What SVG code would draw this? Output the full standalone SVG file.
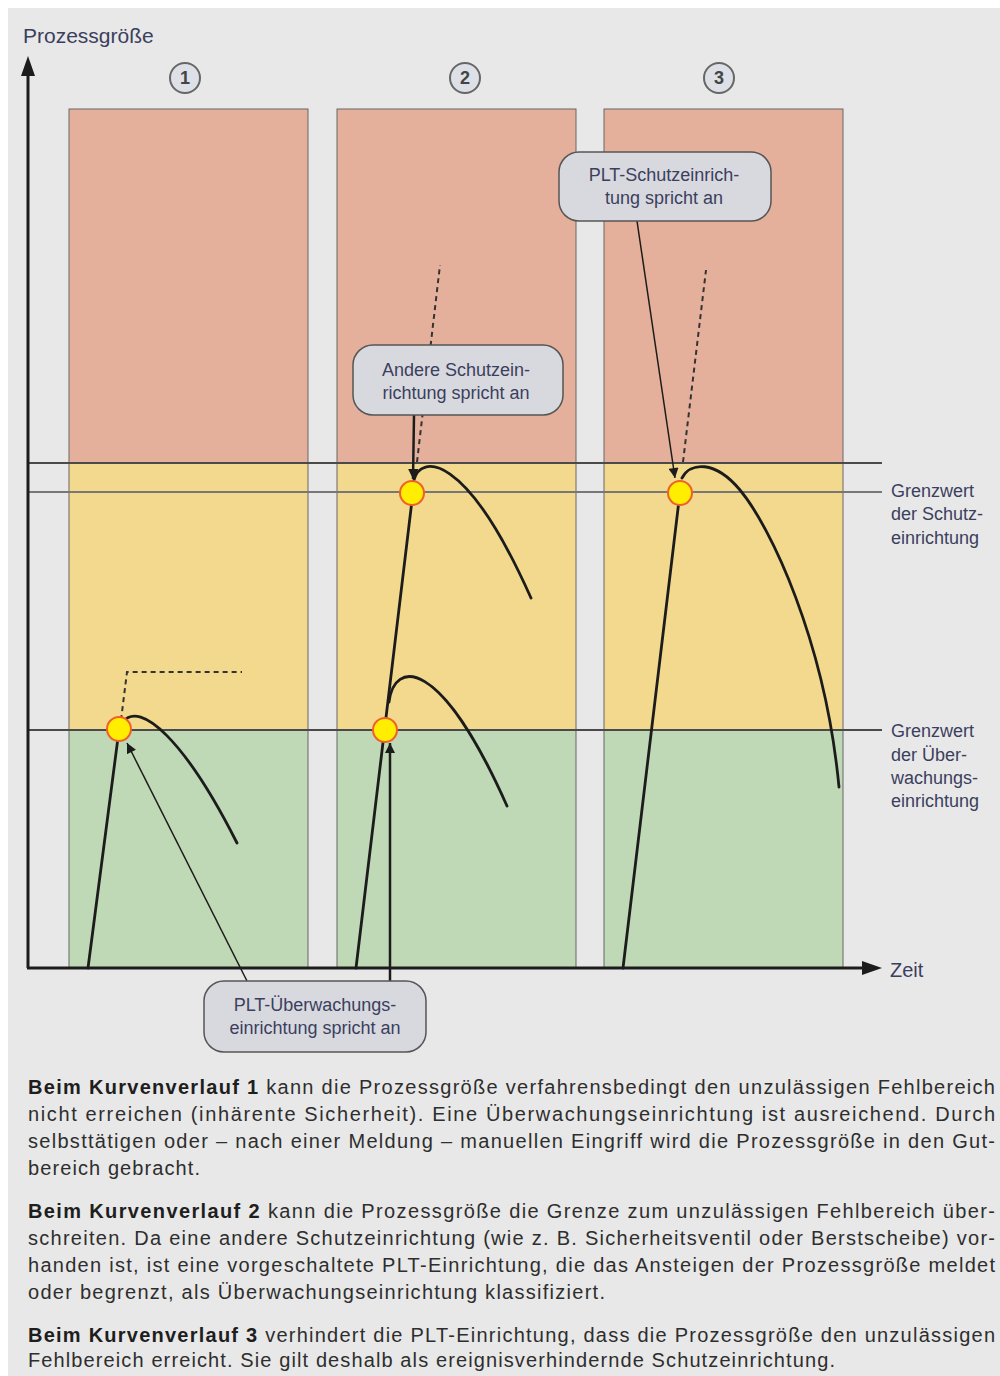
<svg xmlns="http://www.w3.org/2000/svg" width="1000" height="1376" viewBox="0 0 1000 1376">
<defs>
<style>
.lbl{font-family:"Liberation Sans",Arial,sans-serif;fill:#3b3f5e}
.para{font-family:"Liberation Sans",Arial,sans-serif;font-size:20px;fill:#2e2e2e}
.b{font-weight:bold;fill:#1e1e1e}
.col{stroke:#666;stroke-width:1}
.red{fill:#e4b09c}
.yel{fill:#f3d98d}
.grn{fill:#bfd8b6}
.curve{fill:none;stroke:#1c1c1c;stroke-width:2.8;stroke-linecap:round}
.dash{fill:none;stroke:#333;stroke-width:2;stroke-dasharray:5 4}
.dot{fill:#ffee00;stroke:#f0602a;stroke-width:2}
.box{fill:#d8d9de;stroke:#555;stroke-width:1.5}
.num{fill:#dde0e6;stroke:#666;stroke-width:2}
.thin{fill:none;stroke:#1c1c1c;stroke-width:1.5}
.thick{fill:none;stroke:#1c1c1c;stroke-width:2.5}
</style>
<marker id="ah" viewBox="0 0 10 10" refX="10" refY="5" markerWidth="11" markerHeight="10" markerUnits="userSpaceOnUse" orient="auto">
<path d="M0,0 L10,5 L0,10 z" fill="#1c1c1c"/>
</marker>
</defs>
<rect x="0" y="0" width="1000" height="1376" fill="#ffffff"/>
<rect x="8" y="8" width="992" height="1368" fill="#e8e8e8"/>

<g id="columns">
<g id="col1">
<rect class="red" x="69" y="109" width="239" height="354"/>
<rect class="yel" x="69" y="463" width="239" height="267"/>
<rect class="grn" x="69" y="730" width="239" height="238"/>
<rect class="col" x="69" y="109" width="239" height="859" fill="none"/>
</g>
<g id="col2">
<rect class="red" x="337" y="109" width="239" height="354"/>
<rect class="yel" x="337" y="463" width="239" height="267"/>
<rect class="grn" x="337" y="730" width="239" height="238"/>
<rect class="col" x="337" y="109" width="239" height="859" fill="none"/>
</g>
<g id="col3">
<rect class="red" x="604" y="109" width="239" height="354"/>
<rect class="yel" x="604" y="463" width="239" height="267"/>
<rect class="grn" x="604" y="730" width="239" height="238"/>
<rect class="col" x="604" y="109" width="239" height="859" fill="none"/>
</g>
</g>

<g id="limits">
<line x1="28" y1="463" x2="882" y2="463" stroke="#4a4a4a" stroke-width="2"/>
<line x1="28" y1="492" x2="882" y2="492" stroke="#777" stroke-width="2"/>
<line x1="28" y1="730" x2="882" y2="730" stroke="#4a4a4a" stroke-width="2"/>
</g>

<g id="axes">
<line x1="28" y1="968" x2="28" y2="72" stroke="#1c1c1c" stroke-width="3"/>
<path d="M28,56 L35,76 L21,76 z" fill="#1c1c1c"/>
<line x1="27" y1="968" x2="866" y2="968" stroke="#1c1c1c" stroke-width="3"/>
<path d="M882,968 L862,961 L862,975 z" fill="#1c1c1c"/>
<text class="lbl" x="23" y="43" font-size="21">Prozessgröße</text>
<text class="lbl" x="890" y="977" font-size="20">Zeit</text>
</g>

<g id="numbers">
<g id="n1"><circle class="num" cx="185" cy="78" r="15"/><text class="lbl" x="185" y="84" font-size="18" font-weight="bold" text-anchor="middle" style="fill:#444">1</text></g>
<g id="n2"><circle class="num" cx="465" cy="78" r="15"/><text class="lbl" x="465" y="84" font-size="18" font-weight="bold" text-anchor="middle" style="fill:#444">2</text></g>
<g id="n3"><circle class="num" cx="719" cy="78" r="15"/><text class="lbl" x="719" y="84" font-size="18" font-weight="bold" text-anchor="middle" style="fill:#444">3</text></g>
</g>

<g id="curves">
<path class="dash" d="M121,720 L127,672 L242,672"/>
<path class="curve" d="M88,968 L119,730"/>
<path class="curve" d="M123,722 C140,700 185,740 237,843"/>
<path class="dash" d="M417,462 L440,265"/>
<path class="curve" d="M356,968 L413,492"/>
<path class="curve" d="M389,702 C394,660 440,655 507,806"/>
<path class="curve" d="M414,480 C420,455 465,450 531,598"/>
<path class="dash" d="M683,462 L706,270"/>
<path class="curve" d="M623,968 L680,492"/>
<path class="curve" d="M682,478 C690,462 715,460 740,490 C770,526 825,640 839,787"/>
</g>

<g id="dots">
<circle class="dot" cx="119" cy="729" r="12"/>
<circle class="dot" cx="385" cy="730" r="12"/>
<circle class="dot" cx="412" cy="493" r="12"/>
<circle class="dot" cx="680" cy="493" r="12"/>
</g>

<g id="connectors">
<line class="thick" x1="414" y1="415" x2="413" y2="479" marker-end="url(#ah)"/>
<line class="thin" x1="637" y1="221" x2="675" y2="478" marker-end="url(#ah)"/>
<line class="thin" x1="247" y1="981" x2="127" y2="743" marker-end="url(#ah)"/>
<line class="thick" x1="390" y1="981" x2="390" y2="743" marker-end="url(#ah)"/>
</g>

<g id="callout-andere">
<rect class="box" x="353" y="345" width="210" height="70" rx="20"/>
<text class="lbl" x="456" y="376" font-size="18" text-anchor="middle">Andere Schutzein-</text>
<text class="lbl" x="456" y="399" font-size="18" text-anchor="middle">richtung spricht an</text>
</g>
<g id="callout-plt-schutz">
<rect class="box" x="559" y="152" width="212" height="69" rx="20"/>
<text class="lbl" x="664" y="181" font-size="18" text-anchor="middle">PLT-Schutzeinrich-</text>
<text class="lbl" x="664" y="204" font-size="18" text-anchor="middle">tung spricht an</text>
</g>
<g id="callout-plt-ueberw">
<rect class="box" x="204" y="981" width="222" height="71" rx="20"/>
<text class="lbl" x="315" y="1011" font-size="18" text-anchor="middle">PLT-Überwachungs-</text>
<text class="lbl" x="315" y="1034" font-size="18" text-anchor="middle">einrichtung spricht an</text>
</g>

<g id="label-schutz">
<text class="lbl" x="891" y="497" font-size="18">Grenzwert</text>
<text class="lbl" x="891" y="520" font-size="18">der Schutz-</text>
<text class="lbl" x="891" y="544" font-size="18">einrichtung</text>
</g>
<g id="label-ueberw">
<text class="lbl" x="891" y="737" font-size="18">Grenzwert</text>
<text class="lbl" x="891" y="761" font-size="18">der Über-</text>
<text class="lbl" x="891" y="784" font-size="18">wachungs-</text>
<text class="lbl" x="891" y="807" font-size="18">einrichtung</text>
</g>

<g id="text">
<text class="para" x="28" y="1094" textLength="967" lengthAdjust="spacing"><tspan class="b">Beim Kurvenverlauf 1</tspan> kann die Prozessgröße verfahrensbedingt den unzulässigen Fehlbereich</text>
<text class="para" x="28" y="1121" textLength="967" lengthAdjust="spacing">nicht erreichen (inhärente Sicherheit). Eine Überwachungseinrichtung ist ausreichend. Durch</text>
<text class="para" x="28" y="1148" textLength="967" lengthAdjust="spacing">selbsttätigen oder – nach einer Meldung – manuellen Eingriff wird die Prozessgröße in den Gut-</text>
<text class="para" x="28" y="1175" textLength="172" lengthAdjust="spacing">bereich gebracht.</text>
<text class="para" x="28" y="1218" textLength="967" lengthAdjust="spacing"><tspan class="b">Beim Kurvenverlauf 2</tspan> kann die Prozessgröße die Grenze zum unzulässigen Fehlbereich über-</text>
<text class="para" x="28" y="1245" textLength="967" lengthAdjust="spacing">schreiten. Da eine andere Schutzeinrichtung (wie z. B. Sicherheitsventil oder Berstscheibe) vor-</text>
<text class="para" x="28" y="1272" textLength="967" lengthAdjust="spacing">handen ist, ist eine vorgeschaltete PLT-Einrichtung, die das Ansteigen der Prozessgröße meldet</text>
<text class="para" x="28" y="1299" textLength="577" lengthAdjust="spacing">oder begrenzt, als Überwachungseinrichtung klassifiziert.</text>
<text class="para" x="28" y="1342" textLength="967" lengthAdjust="spacing"><tspan class="b">Beim Kurvenverlauf 3</tspan> verhindert die PLT-Einrichtung, dass die Prozessgröße den unzulässigen</text>
<text class="para" x="28" y="1367" textLength="807" lengthAdjust="spacing">Fehlbereich erreicht. Sie gilt deshalb als ereignisverhindernde Schutzeinrichtung.</text>
</g>
</svg>
